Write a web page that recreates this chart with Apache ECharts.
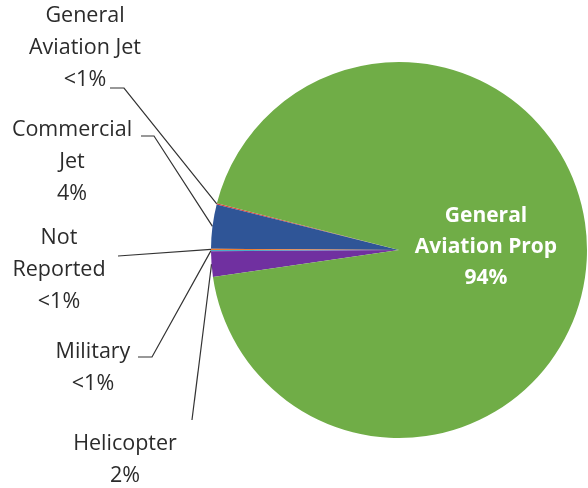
<!DOCTYPE html>
<html>
<head>
<meta charset="utf-8">
<script src="https://cdn.jsdelivr.net/npm/echarts@6/dist/echarts.min.js"></script>
<style>
  html, body { margin: 0; padding: 0; background: #fff; }
  #chart { width: 588px; height: 488px; }
</style>
</head>
<body>
<div id="chart"></div>
<script>
// data
const categories = ['General Aviation Jet', 'Commercial Jet', 'Not Reported', 'Military', 'Helicopter', 'General Aviation Prop']
const values = [0.1, 3.8, 0.1, 0.1, 2.2, 93.7]
const pctLabels = ['<1%', '4%', '<1%', '<1%', '2%', '94%']
const labelLines = ['General\nAviation Jet', 'Commercial\nJet', 'Not\nReported', 'Military', 'Helicopter', 'General\nAviation Prop']
const colors = ['#e0403a', '#2f5597', '#ed7d31', '#4bacc6', '#7030a0', '#70ad47']

// label anchors and leader line ends (layout only)
const labelPos = [[85, 48], [72, 162], [59, 270], [93, 368], [125, 460], [486, 247]]
const lineEnds = [
  [[124, 88], [110, 88]],
  [[154, 136], [141, 136]],
  [[118, 256], [118, 256]],
  [[152, 357], [138, 357]],
  [[192, 420], [192, 420]],
  null
]

let chart = echarts.init(document.getElementById('chart'))
chart.setOption({
  animation: false,
  textStyle: { fontFamily: 'Open Sans' },
  series: [
    {
      type: 'pie',
      center: [399, 250],
      radius: 188,
      startAngle: 165.6,
      clockwise: false,
      avoidLabelOverlap: false,
      minAngle: 0,
      itemStyle: { borderWidth: 0 },
      label: {
        show: true,
        position: 'outside',
        formatter: (p) => labelLines[p.dataIndex] + '\n' + pctLabels[p.dataIndex],
        fontFamily: 'Open Sans',
        fontSize: 21.5,
        lineHeight: 32,
        color: '#2b2b2b',
        align: 'center',
      },
      labelLine: {
        show: true,
        lineStyle: { color: '#333', width: 1.2 },
      },
      labelLayout: (p) => {
        let i = p.dataIndex
        let out = { x: labelPos[i][0], y: labelPos[i][1], align: 'center', verticalAlign: 'middle' }
        if (lineEnds[i] && p.labelLinePoints) {
          out.labelLinePoints = [p.labelLinePoints[0], lineEnds[i][0], lineEnds[i][1]]
        }
        return out
      },
      data: categories.map((name, i) => {
        let d = { name: name, value: values[i], itemStyle: { color: colors[i] } }
        if (i === categories.length - 1) {
          d.label = { position: 'inside', color: '#fff', fontWeight: 'bold', fontSize: 21, lineHeight: 31 }
          d.labelLine = { show: false }
        }
        return d
      }),
    },
  ],
})
</script>
</body>
</html>
